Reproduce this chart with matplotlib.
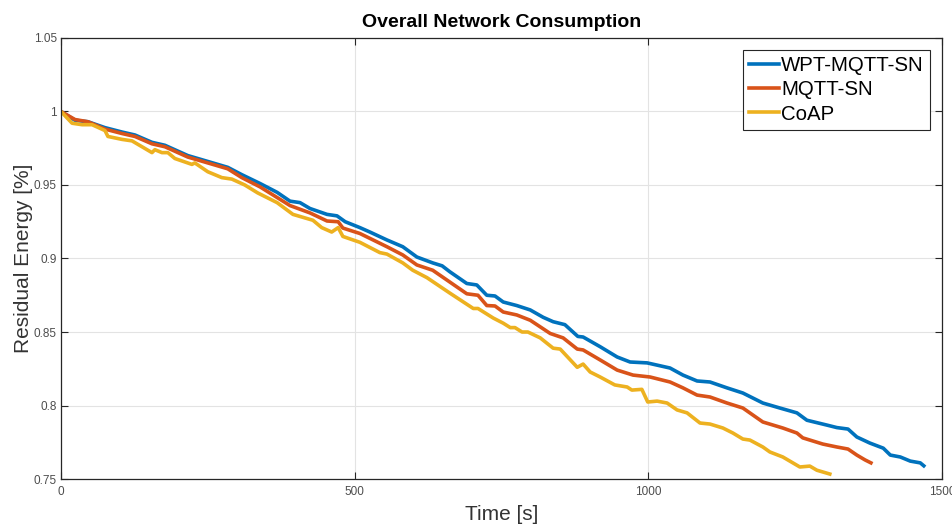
import numpy as np
import matplotlib.pyplot as plt

plt.rcParams['font.family'] = ['Liberation Sans', 'DejaVu Sans']

# time [s] and residual energy
t_wpt = [0, 24, 46, 75, 104, 126, 155, 177, 216, 250, 284, 308, 339, 368, 390, 407,
         424, 453, 470, 484, 509, 526, 555, 582, 606, 633, 649, 662, 691, 708, 725,
         739, 753, 776, 799, 821, 838, 858, 880, 889, 918, 947, 969, 998, 1037, 1059,
         1083, 1105, 1134, 1161, 1195, 1224, 1253, 1270, 1304, 1321, 1340, 1355, 1377,
         1400, 1412, 1429, 1446, 1463, 1469]
e_wpt = [1.000, 0.994, 0.993, 0.989, 0.986, 0.984, 0.979, 0.977, 0.970, 0.966, 0.962,
         0.957, 0.951, 0.945, 0.939, 0.938, 0.934, 0.930, 0.929, 0.925, 0.921, 0.918,
         0.9126, 0.908, 0.901, 0.897, 0.895, 0.891, 0.883, 0.882, 0.875, 0.8745, 0.8704,
         0.868, 0.865, 0.860, 0.857, 0.855, 0.847, 0.8466, 0.840, 0.833, 0.8296, 0.829,
         0.8255, 0.8207, 0.8167, 0.816, 0.812, 0.8085, 0.8017, 0.7983, 0.795, 0.790,
         0.7867, 0.785, 0.784, 0.7786, 0.7745, 0.771, 0.7663, 0.765, 0.7622, 0.761, 0.759]

t_mqtt = [0, 24, 46, 75, 104, 126, 155, 177, 216, 250, 284, 308, 339, 390, 424, 453,
          472, 480, 509, 555, 582, 606, 633, 662, 691, 710, 725, 739, 753, 776, 799,
          833, 855, 879, 889, 918, 947, 974, 1003, 1037, 1059, 1083, 1105, 1134, 1161,
          1195, 1229, 1253, 1263, 1297, 1321, 1340, 1355, 1369, 1379]
e_mqtt = [1.000, 0.9945, 0.993, 0.988, 0.985, 0.983, 0.978, 0.976, 0.969, 0.965, 0.961,
          0.955, 0.9487, 0.936, 0.931, 0.9255, 0.925, 0.9207, 0.917, 0.908, 0.9024,
          0.8956, 0.892, 0.884, 0.876, 0.875, 0.868, 0.8677, 0.8636, 0.8616, 0.858,
          0.849, 0.846, 0.8384, 0.8378, 0.831, 0.8241, 0.8207, 0.8194, 0.816, 0.812,
          0.8071, 0.8058, 0.8017, 0.7983, 0.7888, 0.7847, 0.7813, 0.778, 0.7738, 0.7718,
          0.7704, 0.7663, 0.763, 0.761]

t_coap = [0, 19, 36, 53, 75, 80, 104, 121, 155, 160, 172, 182, 194, 223, 228, 250, 274,
          291, 313, 335, 368, 395, 412, 429, 444, 461, 472, 480, 509, 543, 555, 582, 599,
          623, 662, 702, 710, 736, 753, 765, 773, 785, 795, 816, 838, 850, 879, 889, 901,
          918, 943, 964, 972, 989, 999, 1015, 1032, 1049, 1066, 1088, 1105, 1127, 1144,
          1161, 1173, 1195, 1207, 1229, 1258, 1275, 1287, 1309]
e_coap = [1.000, 0.992, 0.991, 0.991, 0.987, 0.983, 0.981, 0.980, 0.972, 0.974, 0.972,
          0.972, 0.968, 0.964, 0.965, 0.959, 0.955, 0.954, 0.950, 0.9446, 0.938, 0.930,
          0.928, 0.926, 0.921, 0.918, 0.921, 0.915, 0.911, 0.904, 0.903, 0.897, 0.892,
          0.887, 0.8765, 0.866, 0.866, 0.8595, 0.856, 0.853, 0.853, 0.850, 0.850, 0.846,
          0.839, 0.8384, 0.826, 0.8282, 0.8228, 0.8194, 0.814, 0.8126, 0.8105, 0.811,
          0.8024, 0.803, 0.8017, 0.797, 0.795, 0.7881, 0.7874, 0.7847, 0.7813, 0.7772,
          0.7765, 0.7718, 0.7684, 0.765, 0.7582, 0.7588, 0.756, 0.7534]

labels = ['WPT-MQTT-SN', 'MQTT-SN', 'CoAP']
colors = ['#0072BD', '#D95319', '#EDB120']
x_ticks = [0, 500, 1000, 1500]
y_ticks = [0.75, 0.8, 0.85, 0.9, 0.95, 1.0, 1.05]

fig = plt.figure(figsize=(9.52, 5.27), dpi=100)
ax = fig.add_axes([0.064, 0.091, 0.9255, 0.837])

ax.plot(t_wpt, e_wpt, color=colors[0], lw=2.6, label=labels[0])
ax.plot(t_mqtt, e_mqtt, color=colors[1], lw=2.6, label=labels[1])
ax.plot(t_coap, e_coap, color=colors[2], lw=2.6, label=labels[2])

ax.set_xlim(0, 1500)
ax.set_ylim(0.75, 1.05)
ax.set_xticks(x_ticks)
ax.set_yticks(y_ticks)
ax.set_yticklabels(['%g' % v for v in y_ticks])
ax.grid(True, color='#e3e3e3', lw=0.8)
ax.set_axisbelow(True)
ax.tick_params(direction='in', length=5, width=0.8, colors='#262626',
               labelsize=8.5, labelcolor='#4d4d4d', top=True, right=True)
ax.tick_params(axis='y', pad=3)
ax.tick_params(axis='x', pad=5)
for s in ax.spines.values():
    s.set_color('#262626')
    s.set_linewidth(0.9)

ax.set_title('Overall Network Consumption', fontsize=14, fontweight='bold', pad=8)
ax.set_xlabel('Time [s]', fontsize=15, color='#333333')
ax.set_ylabel('Residual Energy [%]', fontsize=15, color='#333333')
ax.xaxis.set_label_coords(0.5, -0.058)
ax.yaxis.set_label_coords(-0.032, 0.5)

leg = ax.legend(loc='upper right', fontsize=14.7, handlelength=1.45, handletextpad=0.12,
                borderpad=0.3, labelspacing=0.25, borderaxespad=0.6, fancybox=False,
                framealpha=1, edgecolor='#262626')
leg.get_frame().set_linewidth(0.8)

fig.savefig('out.png', dpi=100)
